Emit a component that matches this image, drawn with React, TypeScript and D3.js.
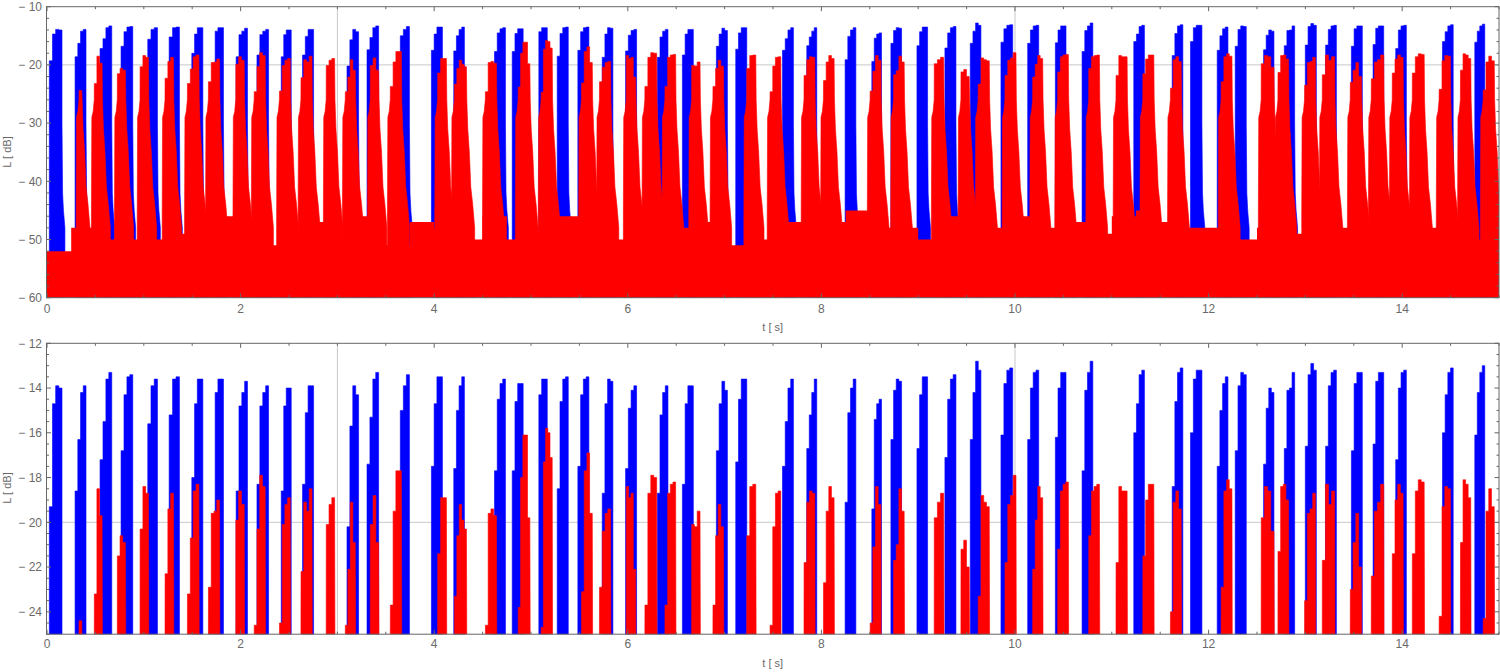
import React from "react";
import * as d3 from "d3";

// ---------- data ----------
// blue bursts: start time, end time [s] and the step levels across the burst [dB]
const blueStart = [0.024, 0.29, 0.548, 0.765, 1.041, 1.262, 1.496, 1.737, 1.954, 2.169, 2.42, 2.64, 3.099, 3.306, 3.65, 3.971, 4.202, 4.623, 4.806, 5.081, 5.271, 5.484, 5.736, 5.977, 6.305, 6.564, 6.915, 7.115, 7.598, 7.849, 8.245, 8.521, 8.718, 8.987, 9.276, 9.538, 9.855, 10.131, 10.417, 10.693, 11.227, 11.624, 11.813, 12.089, 12.275, 12.568, 12.782, 12.999, 13.209, 13.475, 13.699, 13.933, 14.416, 14.75];
const blueEnd = [0.155, 0.403, 0.669, 0.886, 1.141, 1.368, 1.61, 1.823, 2.071, 2.289, 2.523, 2.754, 3.219, 3.426, 3.744, 4.085, 4.312, 4.736, 4.919, 5.168, 5.385, 5.598, 5.846, 6.091, 6.415, 6.677, 7.029, 7.229, 7.711, 7.952, 8.356, 8.621, 8.828, 9.097, 9.39, 9.648, 9.976, 10.245, 10.527, 10.804, 11.337, 11.734, 11.931, 12.2, 12.389, 12.675, 12.889, 13.113, 13.32, 13.588, 13.809, 14.043, 14.527, 14.853];
const blueSteps = [
  [-19.3, -14.7, -13.9, -14.0], [-18.6, -16.3, -14.2, -13.9], [-17.2, -15.5, -13.6, -13.3], [-16.8, -14.3, -13.5, -13.4],
  [-15.6, -13.9, -13.6], [-15.2, -13.6, -13.5], [-18.0, -14.7, -13.6, -13.6], [-14.2, -13.6, -13.6],
  [-18.6, -14.8, -14.2, -13.7], [-18.3, -14.8, -14.2, -13.9], [-18.6, -14.8, -14.0, -14.0], [-18.3, -15.1, -13.9, -13.9],
  [-20.2, -15.7, -13.9, -14.3], [-17.4, -15.3, -13.6, -13.3], [-15.0, -13.9, -13.4], [-17.5, -14.7, -13.5, -13.5],
  [-17.6, -15.0, -13.9, -13.5], [-17.7, -14.5, -13.8, -13.6], [-17.7, -14.6, -13.8, -13.8], [-14.3, -13.6, -13.6],
  [-18.5, -14.6, -13.6, -13.5], [-17.5, -14.3, -13.6, -13.5], [-18.7, -14.7, -13.6, -13.7], [-17.6, -14.9, -14.1, -13.9],
  [-18.7, -15.2, -14.2, -13.9], [-18.3, -14.7, -13.9, -13.9], [-16.8, -14.7, -13.7, -14.1], [-17.3, -14.5, -13.6, -13.6],
  [-17.5, -15.5, -14.0, -13.6], [-16.7, -15.2, -14.2, -13.6], [-19.1, -15.1, -14.0, -13.6], [-19.4, -15.4, -14.7, -14.5],
  [-16.3, -14.1, -13.6, -13.7], [-16.7, -14.3, -13.5, -13.5], [-17.1, -14.5, -13.6, -13.4], [-16.3, -14.2, -12.8, -13.2],
  [-16.1, -13.8, -13.2, -13.1], [-16.3, -14.0, -13.3, -13.2], [-16.2, -14.0, -13.3, -13.3], [-17.7, -14.1, -13.3, -12.8],
  [-16.0, -14.7, -13.4, -13.2], [-18.4, -14.6, -13.3, -13.1], [-16.0, -13.6, -13.2, -13.2], [-17.5, -15.0, -13.8, -13.5],
  [-16.8, -13.9, -13.3, -13.4], [-17.4, -14.9, -14.0, -14.2], [-16.7, -14.1, -14.0, -13.3], [-16.6, -13.4, -12.9, -13.2],
  [-16.6, -13.9, -13.3, -13.2], [-16.8, -13.8, -13.3, -13.3], [-16.5, -13.7, -13.3, -13.3], [-17.2, -14.0, -13.3, -13.2],
  [-16.0, -14.3, -13.3, -13.1], [-16.1, -14.2, -13.3, -13.0],
];

// red bursts: start/end of the part above -25 dB and the step levels there
const redStart = [0.331, 0.489, 0.727, 0.962, 1.22, 1.451, 1.668, 1.951, 2.141, 2.402, 2.624, 2.885, 3.082, 3.34, 3.547, 4.036, 4.209, 4.529, 4.868, 5.105, 5.522, 5.708, 5.984, 6.177, 6.384, 6.66, 6.88, 7.229, 7.47, 7.821, 8.022, 8.504, 8.746, 9.166, 9.442, 9.62, 9.897, 10.183, 10.441, 10.762, 11.044, 11.321, 11.606, 12.13, 12.544, 12.717, 12.992, 13.175, 13.464, 13.681, 13.898, 14.105, 14.382, 14.602, 14.837];
const redEnd = [0.359, 0.569, 0.81, 1.048, 1.306, 1.569, 1.782, 2.037, 2.254, 2.513, 2.737, 2.971, 3.185, 3.426, 3.661, 4.126, 4.333, 4.643, 4.988, 5.219, 5.633, 5.822, 6.081, 6.298, 6.494, 6.746, 6.988, 7.322, 7.58, 7.932, 8.131, 8.614, 8.855, 9.263, 9.527, 9.734, 10.01, 10.286, 10.551, 10.872, 11.158, 11.434, 11.717, 12.241, 12.675, 12.826, 13.103, 13.302, 13.578, 13.809, 14.009, 14.227, 14.498, 14.708, 14.951];
const redSteps = [
  [-24.4], [-23.2, -18.5, -19.7], [-21.5, -20.6, -20.9], [-20.3, -18.4, -18.7], [-22.3, -19.4, -18.7],
  [-23.2, -20.7, -18.6, -18.3], [-22.9, -19.6, -19.5, -19.0], [-19.9, -18.6, -19.2], [-24.6, -20.3, -17.9, -18.4],
  [-24.5, -20.1, -19.2, -18.9], [-22.2, -19.1, -19.5, -18.5], [-20.1, -19.2, -18.9], [-24.6, -22.1, -19.1, -20.9],
  [-20.1, -18.8, -20.9], [-23.7, -19.5, -17.7, -17.7], [-21.4, -18.9, -18.9], [-23.3, -20.6, -19.2, -19.9, -20.3],
  [-24.6, -19.6, -19.4, -19.7], [-23.8, -18.0, -16.1, -16.1, -19.8], [-24.7, -17.3, -15.8, -16.0, -17.1],
  [-23.1, -17.7, -16.9, -19.6], [-22.9, -20.4, -19.6, -19.4], [-18.4, -18.9, -18.7, -22.1], [-23.7, -18.7, -17.9, -18.0],
  [-23.7, -18.7, -18.3, -18.2], [-20.1, -20.2, -19.5], [-23.7, -20.6, -19.2, -20.2], [-20.6, -18.4, -18.3],
  [-24.6, -20.2, -18.7, -18.6], [-21.8, -19.1, -18.6, -18.7], [-22.7, -19.5, -18.4, -18.9], [-24.5, -21.1, -18.4, -19.2],
  [-21.7, -21.0, -18.5, -19.5], [-19.8, -19.1, -18.7], [-21.2, -20.8, -22.0], [-23.3, -18.8, -19.1, -19.3],
  [-21.8, -19.2, -18.8, -17.9], [-22.1, -19.9, -18.4, -18.9], [-21.2, -18.6, -18.3, -18.2], [-20.6, -18.6, -18.4, -18.3],
  [-21.8, -18.4, -18.6, -18.6], [-21.5, -19.0, -18.3, -18.3], [-24.0, -19.1, -18.6, -19.4], [-22.9, -18.6, -18.1, -18.5],
  [-19.8, -18.4, -18.6, -20.4], [-21.3, -18.4, -18.3, -19.0], [-23.5, -19.6, -19.4, -18.7], [-21.7, -18.3, -19.2, -18.6],
  [-23.0, -20.9, -19.6, -22.0], [-22.4, -19.5, -19.1, -18.3], [-21.4, -19.0, -18.3, -18.7], [-21.4, -18.6, -18.1, -18.2],
  [-24.2, -19.3, -18.4, -18.5], [-20.9, -18.1, -18.3, -18.9], [-24.3, -19.5, -18.5, -19.3],
];

// red noise floor, one reading every 0.25 s from t = 0 to 15
const floorDt = 0.25;
const redFloor = [
  -52, -48, -50, -50, -50, -49, -48, -46, -49, -51, -51, -47, -50, -46, -51, -47,
  -48, -50, -46, -50, -49, -46, -48, -50, -48, -49, -48, -47, -51, -50, -47, -47,
  -47, -45, -48, -48, -50, -46, -49, -48, -46, -48, -47, -49, -46, -45, -47, -48,
  -48, -50, -48, -49, -49, -48, -50, -52, -50, -48, -49, -50, -50,
];

// common burst edges seen in the upper panel: [time offset s, level dB]
const blueTail = [[0, -30], [0.006, -42], [0.015, -45], [0.03, -48]];
const redRise = [[-0.03, -46], [-0.026, -29], [-0.012, -28], [-0.001, -26]];
const redFall = [[0.004, -26], [0.014, -31], [0.03, -35], [0.045, -41], [0.065, -44], [0.085, -48]];

const xMajor = [0, 2, 4, 6, 8, 10, 12, 14];
const topYMajor = [-10, -20, -30, -40, -50, -60];
const botYMajor = [-12, -14, -16, -18, -20, -22, -24];
const gridT = [3, 10];
const gridL = [-20];

const BASE = -60;

type Pt = [number, number];

function bluePts(i: number): Pt[] {
  const s = blueStart[i], e = blueEnd[i], lv = blueSteps[i];
  const w = (e - s) / lv.length;
  const pts: Pt[] = [[s, BASE]];
  lv.forEach((l, j) => { pts.push([s + j * w, l], [s + (j + 1) * w, l]); });
  blueTail.forEach(([dt, l]) => pts.push([e + dt, l]));
  pts.push([e + blueTail[blueTail.length - 1][0], BASE]);
  return pts;
}

function redPts(i: number): Pt[] {
  const s = redStart[i], e = redEnd[i], lv = redSteps[i];
  const w = (e - s) / lv.length;
  const pts: Pt[] = [[s + redRise[0][0], BASE]];
  redRise.forEach(([dt, l]) => pts.push([s + dt, l]));
  lv.forEach((l, j) => { pts.push([s + j * w, l], [s + (j + 1) * w, l]); });
  redFall.forEach(([dt, l]) => pts.push([e + dt, l]));
  pts.push([e + redFall[redFall.length - 1][0], BASE]);
  return pts;
}

const fmt = (v: number) => (v < 0 ? `\u2212 ${-v}` : `${v}`);

export default function App() {
  const W = 1500, H = 672;
  const L = 46.5, R = 1499;
  const x = d3.scaleLinear().domain([0, 15]).range([47, R]);
  const panels = [
    { id: "p1", top: 6.7, bottom: 297.7, domain: [-60, -10], major: topYMajor, minorStep: 2, xLabY: 312.5, tLabY: 331, lLabY: 152 },
    { id: "p2", top: 343.3, bottom: 634.2, domain: [-25, -12], major: botYMajor, minorStep: 0.5, xLabY: 648, tLabY: 667, lLabY: 488 },
  ];
  const xMinor = d3.range(0, 15.001, 0.5).filter((t) => Math.abs(t % 2) > 1e-6);
  const floorPts: Pt[] = redFloor.map((v, k) => [k * floorDt, v] as Pt);
  const tickColor = "#666";
  const labelColor = "#6a6a6a";
  const font = "'Liberation Sans', Arial, sans-serif";

  return (
    <svg width={W} height={H} style={{ position: "absolute", left: 0, top: 0, background: "#fff" }} fontFamily={font}>
      {panels.map((p) => {
        const y = d3.scaleLinear().domain(p.domain).range([p.bottom, p.top]);
        const area = d3.area<Pt>().x((d) => x(d[0])).y0(y(BASE) + 5).y1((d) => y(d[1])).curve(d3.curveLinear);
        const floorArea = d3.area<Pt>().x((d) => x(d[0])).y0(y(BASE) + 5).y1((d) => y(d[1])).curve(d3.curveStepAfter);
        const yMinor = d3.range(p.domain[0], p.domain[1] + 1e-6, p.minorStep).filter((v) => !p.major.includes(v));
        return (
          <g key={p.id}>
            <defs>
              <clipPath id={`clip-${p.id}`}>
                <rect x={L} y={p.top} width={R - L} height={p.bottom - p.top} />
              </clipPath>
            </defs>
            <g clipPath={`url(#clip-${p.id})`}>
              {gridT.map((t) => (
                <line key={`gt${t}`} x1={x(t)} x2={x(t)} y1={p.top} y2={p.bottom} stroke="#c8c8c8" strokeWidth={1} />
              ))}
              {gridL.map((v) => (
                <line key={`gl${v}`} x1={L} x2={R} y1={y(v)} y2={y(v)} stroke="#c8c8c8" strokeWidth={1} />
              ))}
              {blueStart.map((_, i) => (
                <path key={`b${i}`} d={area(bluePts(i)) || ""} fill="#0000ff" stroke="#0000ff" strokeWidth={0.6} />
              ))}
              <path d={floorArea([...floorPts, [15.2, redFloor[redFloor.length - 1]]]) || ""} fill="#ff0000" />
              {redStart.map((_, i) => (
                <path key={`r${i}`} d={area(redPts(i)) || ""} fill="#ff0000" stroke="#ff0000" strokeWidth={0.6} />
              ))}
            </g>
            {/* frame */}
            <rect x={L} y={p.top} width={R - L} height={p.bottom - p.top} fill="none" stroke={tickColor} strokeWidth={1} />
            {/* x ticks */}
            {xMajor.map((t) => (
              <g key={`xm${t}`}>
                <line x1={x(t)} x2={x(t)} y1={p.bottom} y2={p.bottom - 4.5} stroke={tickColor} />
                <line x1={x(t)} x2={x(t)} y1={p.top} y2={p.top + 4.5} stroke={tickColor} />
                <text x={x(t)} y={p.xLabY} textAnchor="middle" fontSize={12} fill={labelColor}>{t}</text>
              </g>
            ))}
            {xMinor.map((t) => (
              <g key={`xn${t}`}>
                <line x1={x(t)} x2={x(t)} y1={p.bottom} y2={p.bottom - 2.5} stroke={tickColor} />
                <line x1={x(t)} x2={x(t)} y1={p.top} y2={p.top + 2.5} stroke={tickColor} />
              </g>
            ))}
            {/* y ticks */}
            {p.major.map((v) => (
              <g key={`ym${v}`}>
                <line x1={L} x2={L + 4.5} y1={y(v)} y2={y(v)} stroke={tickColor} />
                <line x1={R} x2={R - 4.5} y1={y(v)} y2={y(v)} stroke={tickColor} />
                <text x={42} y={y(v)} dy="0.35em" textAnchor="end" fontSize={12} fill={labelColor}>{fmt(v)}</text>
              </g>
            ))}
            {yMinor.map((v) => (
              <g key={`yn${v}`}>
                <line x1={L} x2={L + 2.5} y1={y(v)} y2={y(v)} stroke={tickColor} />
                <line x1={R} x2={R - 2.5} y1={y(v)} y2={y(v)} stroke={tickColor} />
              </g>
            ))}
            <text x={(L + R) / 2} y={p.tLabY} textAnchor="middle" fontSize={11} fill={labelColor}>t [ s]</text>
            <text transform={`translate(11,${p.lLabY}) rotate(-90)`} textAnchor="middle" fontSize={11} fill={labelColor}>L [ dB]</text>
          </g>
        );
      })}
    </svg>
  );
}
